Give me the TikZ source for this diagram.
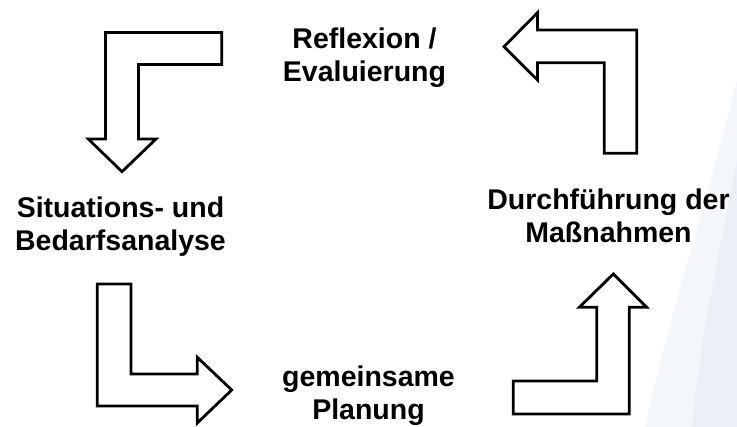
\documentclass[tikz,border=0pt]{standalone}
\usepackage{fontspec}
\setmainfont{Liberation Sans}
\definecolor{swooshlight}{RGB}{244,247,250}
\definecolor{swooshdark}{RGB}{234,240,246}
\tikzset{
  blockarrow/.style={draw=black, line width=2.8pt, fill=white, line join=miter},
  steplabel/.style={align=center, inner sep=0pt, font=\bfseries\fontsize{28.5}{33.5}\selectfont}
}
\begin{document}
\begin{tikzpicture}[x=1pt,y=-1pt]
      \useasboundingbox[fill=white] (0,0) rectangle (737,427);

      % faint background swoosh
      \path[fill=swooshlight] (737,80) .. controls (705,210) and (665,330) .. (645,427) -- (737,427) -- cycle;
      \path[fill=swooshdark] (737,160) .. controls (718,260) and (698,350) .. (692,427) -- (737,427) -- cycle;

      % block arrows
      \begin{scope}[shift={(105.5,32.5)}]
        \draw[blockarrow] (0,0) -- (116.2,0) -- (116.2,32) -- (33,32) -- (33,106.5) -- (50.5,106.5)
          -- (16.5,139.2) -- (-17.2,106.5) -- (0,106.5) -- cycle;
      \end{scope}
      \begin{scope}[shift={(97.3,284)}]
        \draw[blockarrow] (0,0) -- (33.7,0) -- (33.7,90) -- (100,90) -- (100,73.3)
          -- (134.4,106) -- (100,139) -- (100,122) -- (0,122) -- cycle;
      \end{scope}
      \begin{scope}[shift={(513.3,414)}]
        \draw[blockarrow] (0,0) -- (0,-33) -- (83.4,-33) -- (83.4,-106.7) -- (66,-106.7)
          -- (100,-140) -- (133.4,-106.7) -- (116,-106.7) -- (116,0) -- cycle;
      \end{scope}
      \begin{scope}[shift={(636.7,153.3)}]
        \draw[blockarrow] (0,0) -- (-32.4,0) -- (-32.4,-90.6) -- (-99.2,-90.6) -- (-99.2,-73.3)
          -- (-132.7,-106.6) -- (-99.2,-140.6) -- (-99.2,-123.3) -- (0,-123.3) -- cycle;
      \end{scope}

      % labels
      \node[steplabel] (refl) at (364.5,57.6) {Reflexion /\\Evaluierung};
      \node[steplabel] (situ) at (120.5,226.6) {Situations- und\\Bedarfsanalyse};
      \node[steplabel] (durch) at (608.5,216) {Durchführung der\\Maßnahmen};
      \node[steplabel] (plan) at (368.5,395.5) {gemeinsame\\Planung};
   \end{tikzpicture}
\end{document}
